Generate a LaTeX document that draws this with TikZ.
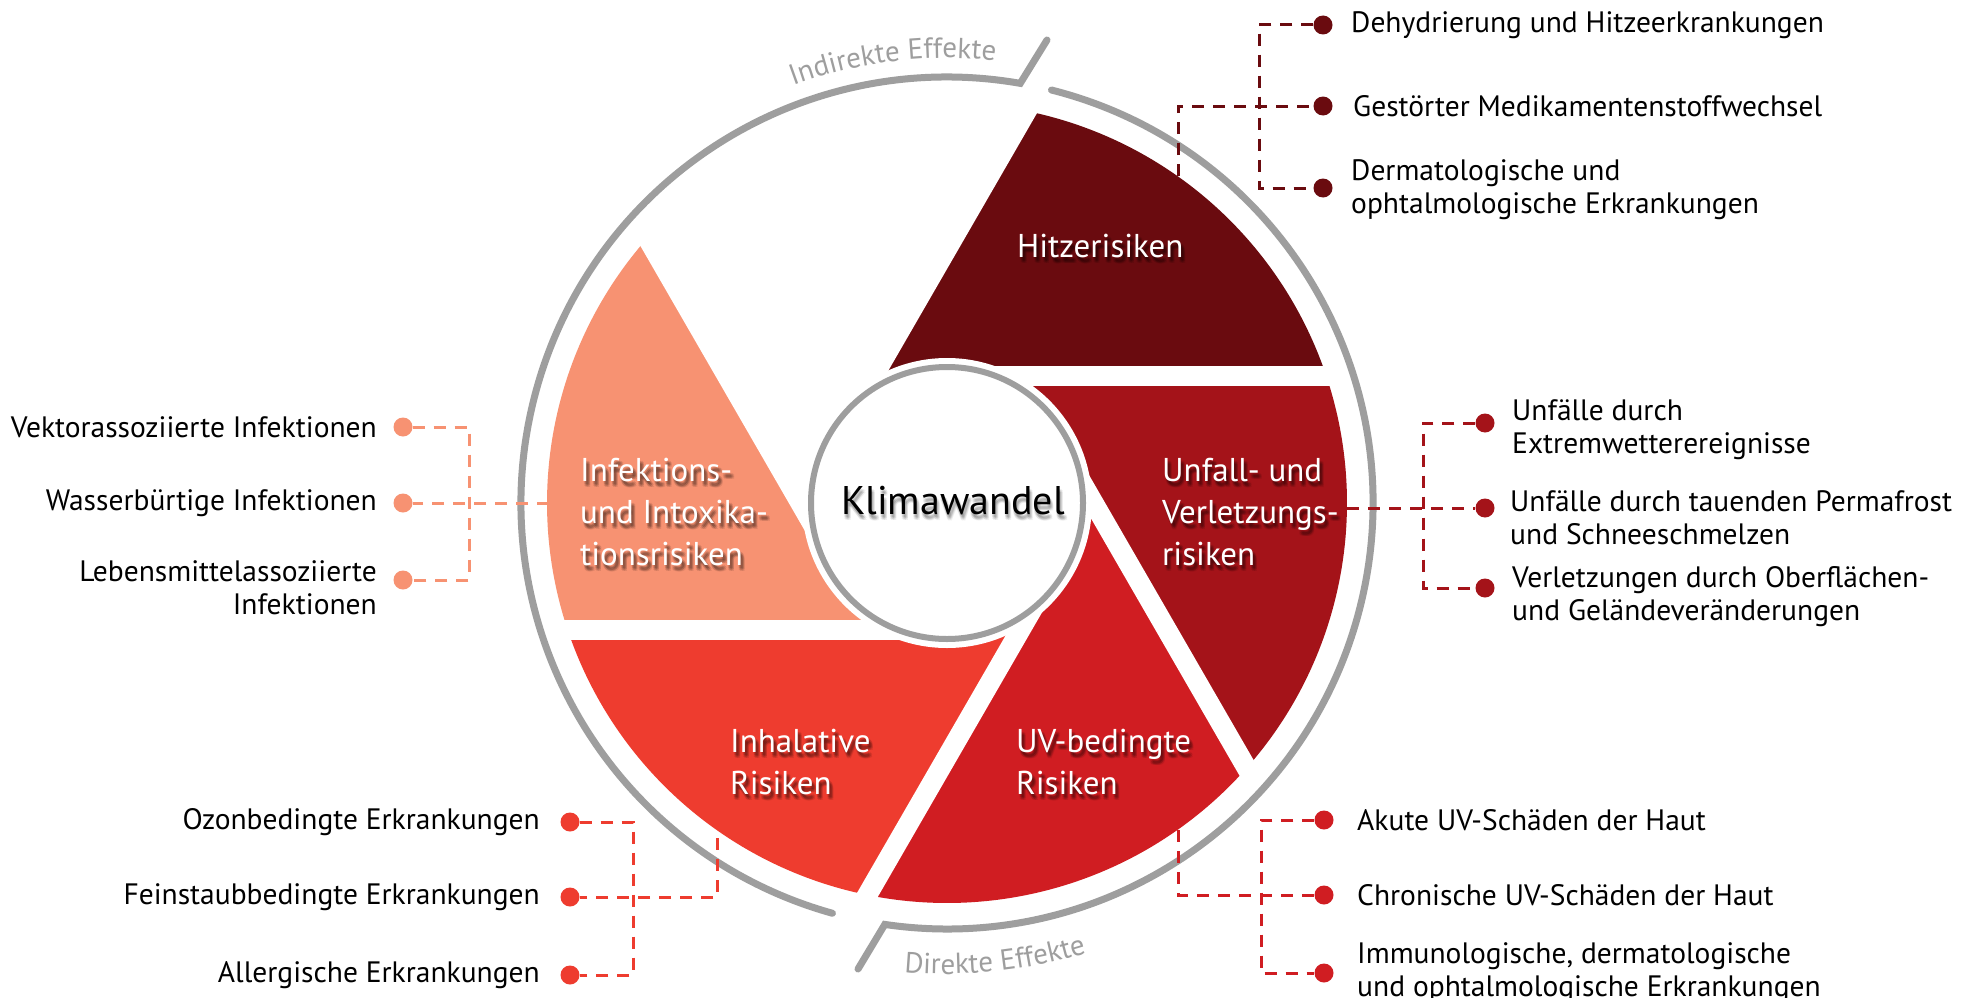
\documentclass[tikz,border=0pt]{standalone}
\usepackage{fontspec}
\setmainfont{PT Sans}
\usetikzlibrary{calc,decorations.text}
\definecolor{hitzc}{RGB}{106,11,15}
\definecolor{unfallc}{RGB}{164,19,25}
\definecolor{uvc}{RGB}{208,29,34}
\definecolor{inhalc}{RGB}{238,60,47}
\definecolor{infekc}{RGB}{247,146,114}
\definecolor{ringc}{RGB}{158,158,158}
\tikzset{
  bladetext/.style={text=white, font=\fontsize{33}{42}\selectfont, align=left, inner sep=0pt},
  shadowtext/.style={text=black, opacity=0.09, font=\fontsize{33}{42}\selectfont, align=left, inner sep=0pt},
  lbl/.style={font=\fontsize{29.5}{33}\selectfont, inner sep=0pt, align=left, text=black},
  rlbl/.style={font=\fontsize{29.5}{33}\selectfont, inner sep=0pt, align=right, text=black},
  dotn/.style={circle, fill=#1, minimum size=19pt, inner sep=0pt},
  dashline/.style={draw=#1, line width=3pt, dash pattern=on 12pt off 9pt},
  ringline/.style={draw=ringc, line width=7pt, line cap=round},
  kwtext/.style={font=\fontsize{40}{40}\selectfont, inner sep=0pt},
}
\newcommand\bladelbl[3]{% name, position, text
  \foreach \dx/\dy/\nn in {1/3/a,3/3/b,1/5/c,3/5/d,2/4/e,4/6/f,2/6/g,4/4/h}{\node[shadowtext, anchor=west] (#1\nn) at ($#2+(\dx,\dy)$) {#3};}
  \node[bladetext, anchor=west] (#1) at #2 {#3};
}
\begin{document}
\begin{tikzpicture}[x=1pt,y=-1pt]
\useasboundingbox (0,0) rectangle (1975,998);
\fill[white] (0,0) rectangle (1975,998);
\coordinate (C) at (947,503);
\begin{scope}[shift={(947,503)}]
  % blades
  \foreach \k/\col in {0/hitzc,1/unfallc,2/uvc,3/inhalc,4/infekc}{
    \pgfmathsetmacro\aa{240+60*\k}
    \pgfmathsetmacro\ab{\aa+41.49}
    \pgfmathsetmacro\ac{\aa+101.49}
    \pgfmathsetmacro\ad{\aa+60}
    \fill[\col] (0,0) -- (\aa:146.65) -- (\ab:400) arc[start angle=\ab, end angle=\ac, radius=400] -- (\ad:146.65) -- cycle;
  }
  % gaps
  \foreach \nu in {270,330,30,90,150,210}{
    \draw[white, line width=20pt] (\nu:127) -- ++(\nu+90:392);
  }
  \fill[white] (0,0) circle[radius=145];
  % outer ring
  \draw[ringline] (105.6:426) arc[start angle=105.6, end angle=279.9, radius=426] -- (100,-463);
  \draw[ringline] (284.2:426) arc[start angle=284.2, end angle=458.4, radius=426] -- (-89,466);
  \path[decorate, decoration={text along path, text align=center,
     text={|\color{ringc}\fontsize{29}{29}\selectfont|Indirekte Effekte}}]
     (240:445) arc[start angle=240, end angle=286, radius=445];
  \path[decorate, decoration={text along path, text align=center,
     text={|\color{ringc}\fontsize{29}{29}\selectfont|Direkte Effekte}}]
     (104:471) arc[start angle=104, end angle=64, radius=471];
\end{scope}
% centre circle
\node[circle, draw=ringc, line width=6pt, fill=white, minimum size=272pt, inner sep=0pt] (kc) at (C) {};
\foreach \dx/\dy/\nn in {0/3/a,2/3/b,0/5/c,2/5/d,1/4/e,3/6/f,1/6/g,3/4/h}{
  \node[kwtext, text=black, opacity=0.06] (kw\nn) at ($(953,501)+(\dx,\dy)$) {Klimawandel};
}
\node[kwtext, text=black] (kw) at (953,501) {Klimawandel};

% blade labels
\bladelbl{th}{(1017,246)}{Hitzerisiken}
\bladelbl{tu}{(1162,512)}{Unfall- und\\Verletzungs-\\risiken}
\bladelbl{tv}{(1016,762)}{UV-bedingte\\Risiken}
\bladelbl{tn}{(730,762)}{Inhalative\\Risiken}
\bladelbl{ti}{(580,512)}{Infektions-\\und Intoxika-\\tionsrisiken}

% connector anchors on the blades
\coordinate (hz) at (1178,176);
\coordinate (uz) at (1347,508);
\coordinate (vz) at (1178,830);
\coordinate (nz) at (717,838);
\coordinate (iz) at (549,503);
\coordinate (hb) at (1259,188);
\coordinate (ub) at (1423,588);
\coordinate (vb) at (1261,973);
\coordinate (nb) at (633,975);
\coordinate (ib) at (469,580);

% dots
\node[dotn=hitzc] (h1) at (1323,25) {};
\node[dotn=hitzc] (h2) at (1323,106) {};
\node[dotn=hitzc] (h3) at (1323,188) {};
\node[dotn=unfallc] (u1) at (1485,423) {};
\node[dotn=unfallc] (u2) at (1485,508) {};
\node[dotn=unfallc] (u3) at (1485,588) {};
\node[dotn=uvc] (v1) at (1324,820) {};
\node[dotn=uvc] (v2) at (1324,895) {};
\node[dotn=uvc] (v3) at (1324,973) {};
\node[dotn=inhalc] (n1) at (570,822) {};
\node[dotn=inhalc] (n2) at (570,897) {};
\node[dotn=inhalc] (n3) at (570,975) {};
\node[dotn=infekc] (i1) at (403,427) {};
\node[dotn=infekc] (i2) at (403,503) {};
\node[dotn=infekc] (i3) at (403,580) {};

% connectors
\draw[dashline=hitzc] (h1) -| (hb) -- (h3);
\draw[dashline=hitzc] (hz) |- (h2);
\draw[dashline=unfallc] (u1) -| (ub) -- (u3);
\draw[dashline=unfallc] (uz) -- (u2);
\draw[dashline=uvc] (v1) -| (vb) -- (v3);
\draw[dashline=uvc] (vz) |- (v2);
\draw[dashline=inhalc] (n1) -| (nb) -- (n3);
\draw[dashline=inhalc] (nz) |- (n2);
\draw[dashline=infekc] (i1) -| (ib) -- (i3);
\draw[dashline=infekc] (iz) -- (i2);

% labels
\node[lbl, anchor=west] (h1t) at (1351,25) {Dehydrierung und Hitzeerkrankungen};
\node[lbl, anchor=west] (h2t) at (1353,106) {Gestörter Medikamentenstoffwechsel};
\node[lbl, anchor=west] (h3t) at (1351,190) {Dermatologische und\\ophtalmologische Erkrankungen};
\node[lbl, anchor=west] (u1t) at (1512,430) {Unfälle durch\\Extremwetterereignisse};
\node[lbl, anchor=west] (u2t) at (1510,518) {Unfälle durch tauenden Permafrost\\und Schneeschmelzen};
\node[lbl, anchor=west] (u3t) at (1512,597) {Verletzungen durch Oberflächen-\\und Geländeveränderungen};
\node[lbl, anchor=west] (v1t) at (1357,820) {Akute UV-Schäden der Haut};
\node[lbl, anchor=west] (v2t) at (1357,895) {Chronische UV-Schäden der Haut};
\node[lbl, anchor=west] (v3t) at (1357,973) {Immunologische, dermatologische\\und ophtalmologische Erkrankungen};
\node[rlbl, anchor=east] (n1t) at (540,822) {Ozonbedingte Erkrankungen};
\node[rlbl, anchor=east] (n2t) at (540,897) {Feinstaubbedingte Erkrankungen};
\node[rlbl, anchor=east] (n3t) at (540,975) {Allergische Erkrankungen};
\node[rlbl, anchor=east] (i1t) at (377,427) {Vektorassoziierte Infektionen};
\node[rlbl, anchor=east] (i2t) at (377,503) {Wasserbürtige Infektionen};
\node[rlbl, anchor=east] (i3t) at (377,588) {Lebensmittelassoziierte\\Infektionen};
\end{tikzpicture}
\end{document}
